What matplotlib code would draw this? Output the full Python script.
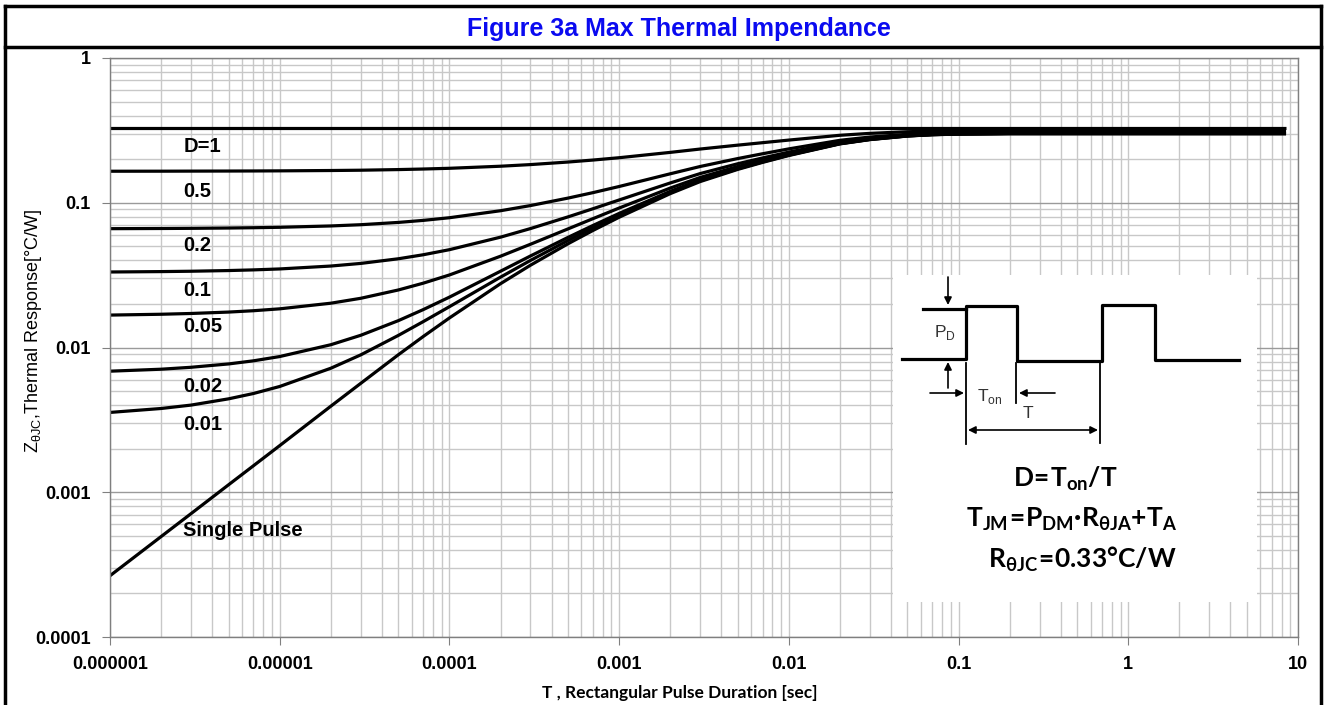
import matplotlib
matplotlib.use('Agg')
import matplotlib.pyplot as plt
from matplotlib.lines import Line2D
from matplotlib.ticker import NullFormatter, LogLocator

plt.rcParams['font.family'] = ['Liberation Sans', 'DejaVu Sans']
plt.rcParams['mathtext.fontset'] = 'custom'
plt.rcParams['mathtext.rm'] = 'Liberation Sans'
plt.rcParams['mathtext.sf'] = 'Lato:bold'
plt.rcParams['mathtext.bf'] = 'Liberation Sans:bold'

## pulse duration [sec] and Zth [C/W]
t = [1e-6, 2e-6, 3e-6, 5e-6, 7e-6,
     1e-5, 2e-5, 3e-5, 5e-5, 7e-5,
     1e-4, 2e-4, 3e-4, 5e-4, 7e-4,
     1e-3, 2e-3, 3e-3, 5e-3, 7e-3,
     1e-2, 2e-2, 3e-2, 5e-2, 7e-2,
     0.1, 0.2, 0.3, 0.5, 0.7,
     1, 2, 3, 5, 8.5]

z_single = [0.000265, 0.000494, 0.000711, 0.001127, 0.001524,
            0.00210, 0.00393, 0.00565, 0.00891, 0.0119,
            0.0160, 0.0276, 0.0370, 0.0521, 0.0643,
            0.0794, 0.1156, 0.140, 0.170, 0.190,
            0.212, 0.255, 0.273, 0.289, 0.295,
            0.298, 0.300, 0.300, 0.300, 0.300,
            0.300, 0.300, 0.300, 0.300, 0.300]
z_d001 = [0.00356, 0.00379, 0.00400, 0.00442, 0.00481,
          0.00538, 0.00719, 0.00889, 0.01212, 0.01508,
          0.01914, 0.03062, 0.03993, 0.05488, 0.06696,
          0.08191, 0.1177, 0.1419, 0.1716, 0.1914,
          0.2132, 0.2558, 0.2736, 0.2894, 0.2954,
          0.2983, 0.3003, 0.3003, 0.3003, 0.3003,
          0.3003, 0.3003, 0.3003, 0.3003, 0.3003]
z_d002 = [0.00686, 0.00708, 0.00730, 0.00770, 0.00809,
          0.00866, 0.01045, 0.01214, 0.01533, 0.01826,
          0.02228, 0.03365, 0.04286, 0.05766, 0.06961,
          0.08441, 0.1199, 0.1438, 0.1732, 0.1928,
          0.2144, 0.2565, 0.2741, 0.2898, 0.2957,
          0.2986, 0.3006, 0.3006, 0.3006, 0.3006,
          0.3006, 0.3006, 0.3006, 0.3006, 0.3006]
z_d005 = [0.01675, 0.01697, 0.01718, 0.01757, 0.01795,
          0.01850, 0.02023, 0.02187, 0.02497, 0.02781,
          0.0317, 0.04272, 0.05165, 0.0660, 0.07759,
          0.09193, 0.1263, 0.1495, 0.1780, 0.1970,
          0.2179, 0.2588, 0.2759, 0.2911, 0.2968,
          0.2996, 0.3015, 0.3015, 0.3015, 0.3015,
          0.3015, 0.3015, 0.3015, 0.3015, 0.3015]
z_d01 = [0.03324, 0.03345, 0.03364, 0.03401, 0.03437,
         0.03489, 0.03654, 0.03809, 0.04102, 0.04371,
         0.0474, 0.05784, 0.0663, 0.07989, 0.09087,
         0.1045, 0.137, 0.159, 0.186, 0.204,
         0.2238, 0.2625, 0.2787, 0.2931, 0.2985,
         0.3012, 0.303, 0.303, 0.303, 0.303,
         0.303, 0.303, 0.303, 0.303, 0.303]
z_d02 = [0.06621, 0.0664, 0.06657, 0.0669, 0.06722,
         0.06768, 0.06914, 0.07052, 0.07313, 0.07552,
         0.0788, 0.08808, 0.0956, 0.1077, 0.1174,
         0.1295, 0.1585, 0.178, 0.202, 0.218,
         0.2356, 0.270, 0.2844, 0.2972, 0.302,
         0.3044, 0.306, 0.306, 0.306, 0.306,
         0.306, 0.306, 0.306, 0.306, 0.306]
z_d05 = [0.1651, 0.1652, 0.1654, 0.1656, 0.1658,
         0.1661, 0.1670, 0.1678, 0.1695, 0.1710,
         0.1730, 0.1788, 0.1835, 0.1911, 0.1972,
         0.2047, 0.2228, 0.2350, 0.2500, 0.2600,
         0.2710, 0.2925, 0.3015, 0.3095, 0.3125,
         0.3140, 0.3150, 0.3150, 0.3150, 0.3150,
         0.3150, 0.3150, 0.3150, 0.3150, 0.3150]
z_d1 = [0.33] * len(t)

curves = [z_d1, z_d05, z_d02, z_d01, z_d005, z_d002, z_d001, z_single]
curve_labels = ['D=1', '0.5', '0.2', '0.1', '0.05', '0.02', '0.01', 'Single Pulse']
label_y = [0.243, 0.119, 0.051, 0.0249, 0.0139, 0.00542, 0.00292, 0.000548]

x_ticks = [1e-6, 1e-5, 1e-4, 1e-3, 1e-2, 1e-1, 1, 10]
x_ticklabels = ['0.000001', '0.00001', '0.0001', '0.001', '0.01', '0.1', '1', '10']
y_ticks = [1e-4, 1e-3, 1e-2, 1e-1, 1]
y_ticklabels = ['0.0001', '0.001', '0.01', '0.1', '1']

W, H = 1327, 705
fig = plt.figure(figsize=(W / 100, H / 100), dpi=100)
ax = fig.add_axes([110 / W, 1 - 637 / H, (1298 - 110) / W, (637 - 58) / H])

for z in curves:
    ax.plot(t, z, color='black', lw=2.3, solid_capstyle='butt', solid_joinstyle='round')

for lab, yy in zip(curve_labels, label_y):
    ax.text(2.7e-6, yy, lab, fontsize=14.5, fontweight='bold', ha='left', va='center')

ax.set_xscale('log')
ax.set_yscale('log')
ax.set_xlim(1e-6, 10)
ax.set_ylim(1e-4, 1)
ax.set_xticks(x_ticks)
ax.set_xticklabels(x_ticklabels, fontsize=13, fontweight='bold')
ax.set_yticks(y_ticks)
ax.set_yticklabels(y_ticklabels, fontsize=13, fontweight='bold')
ax.xaxis.set_minor_locator(LogLocator(base=10, subs=range(2, 10), numticks=20))
ax.yaxis.set_minor_locator(LogLocator(base=10, subs=range(2, 10), numticks=20))
ax.xaxis.set_minor_formatter(NullFormatter())
ax.yaxis.set_minor_formatter(NullFormatter())
ax.tick_params(which='major', length=6, color='#808080', pad=8)
ax.tick_params(which='minor', length=0)
ax.set_axisbelow(True)
ax.xaxis.grid(True, which='both', color='#c8c8c8', lw=1)
ax.yaxis.grid(True, which='minor', color='#c8c8c8', lw=1)
ax.yaxis.grid(True, which='major', color='#9a9a9a', lw=1)
for s in ax.spines.values():
    s.set_color('#7f7f7f')
    s.set_linewidth(1)

# inset with the pulse sketch and formulas (drawn in pixel coords)
ins = fig.add_axes([893 / W, 1 - 602 / H, (1257 - 893) / W, (602 - 275) / H])
ins.set_xlim(893, 1257)
ins.set_ylim(602, 275)
ins.set_xticks([])
ins.set_yticks([])
ins.patch.set_facecolor('white')
for s in ins.spines.values():
    s.set_visible(False)

wave_x = [902, 966, 966, 1017, 1017, 1102, 1102, 1155, 1155, 1239]
wave_y = [359, 359, 306, 306, 361, 361, 305, 305, 360, 360]
ins.plot(wave_x, wave_y, color='black', lw=2.3)
ins.plot([923, 966], [309, 309], color='black', lw=2.3)
ins.plot([966, 966], [363, 444], color='black', lw=1.3)
ins.plot([1016, 1016], [363, 403], color='black', lw=1.3)
ins.plot([1100, 1100], [363, 443], color='black', lw=1.3)

arr = dict(arrowstyle='-|>', color='black', lw=1.2, mutation_scale=11, shrinkA=0, shrinkB=0)
ins.annotate('', xy=(948, 305), xytext=(948, 277), arrowprops=arr)
ins.annotate('', xy=(948, 362), xytext=(948, 388), arrowprops=arr)
ins.annotate('', xy=(964, 393), xytext=(930, 393), arrowprops=arr)
ins.annotate('', xy=(1019, 393), xytext=(1055, 393), arrowprops=arr)
ins.annotate('', xy=(1098, 430), xytext=(968, 430),
             arrowprops=dict(arrowstyle='<|-|>', color='black', lw=1.2,
                             mutation_scale=11, shrinkA=0, shrinkB=0))

ins.text(945, 333, r'P$_\mathrm{D}$', fontsize=12.5, color='#333333', ha='center', va='center')
ins.text(990, 397, r'T$_\mathrm{on}$', fontsize=12.5, color='#333333', ha='center', va='center')
ins.text(1028, 413, 'T', fontsize=12.5, color='#333333', ha='center', va='center')

ins.text(1065, 487, r'$\mathsf{D\!=\!T_{on}/T}$', fontsize=19, ha='center', va='baseline')
ins.text(1072, 527, r'$\mathsf{T_{JM}\!=\!P_{DM}{·}R_{θJA}{+}T_{A}}$', fontsize=19,
         ha='center', va='baseline')
ins.text(1082, 568, r'$\mathsf{R_{θJC}\!=\!0.33°C/W}$', fontsize=19, ha='center', va='baseline')

# axis titles
fig.text(680 / W, 1 - 693 / H, 'T , Rectangular Pulse Duration [sec]', fontsize=12.5,
         fontweight='bold', family=['Lato', 'DejaVu Sans'], ha='center', va='center')
fig.text(34 / W, 1 - 331 / H, r'Z$_{\mathrm{θJC}}$,Thermal Response[°C/W]', fontsize=13,
         rotation=90, ha='center', va='center')

# title bar and outer frame
fig.text(679 / W, 1 - 29 / H, 'Figure 3a Max Thermal Impendance', fontsize=18,
         fontweight='bold', color='#0a0af0', ha='center', va='center')
frame = dict(transform=fig.transFigure, color='black', lw=2.5)
fig.add_artist(Line2D([5 / W, 5 / W], [0, 1 - 6 / H], **frame))
fig.add_artist(Line2D([1321 / W, 1321 / W], [0, 1 - 6 / H], **frame))
fig.add_artist(Line2D([5 / W, 1321 / W], [1 - 6 / H, 1 - 6 / H], **frame))
fig.add_artist(Line2D([5 / W, 1321 / W], [1 - 47 / H, 1 - 47 / H], **frame))

fig.savefig('out.png', dpi=100)
